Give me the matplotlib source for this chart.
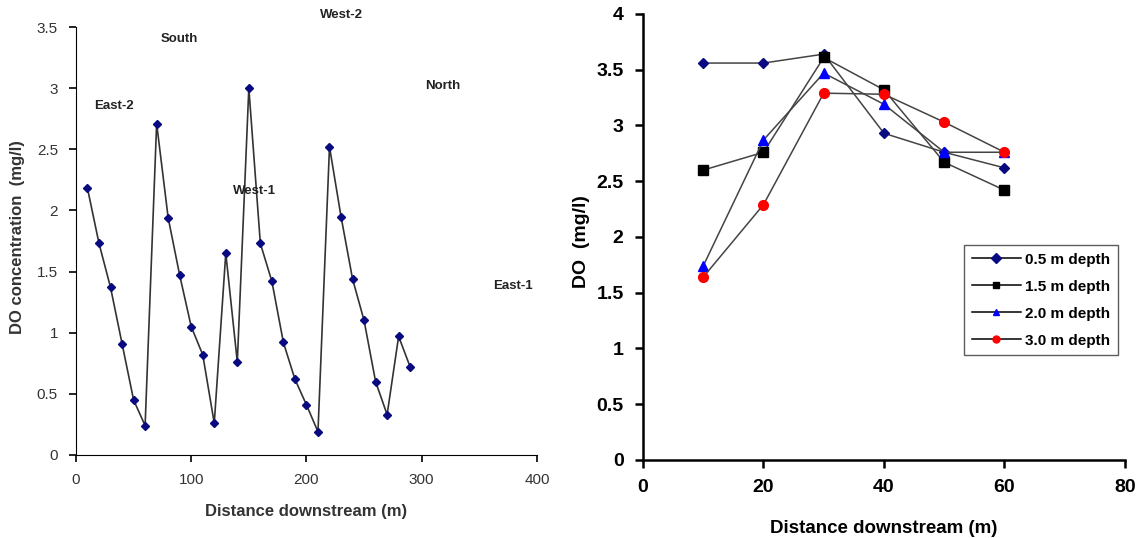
import matplotlib
matplotlib.use("Agg")
import matplotlib.pyplot as plt
import numpy as np

plt.rcParams["font.family"] = ["Liberation Sans", "DejaVu Sans"]

# left panel: DO along the stream
dist = np.arange(10, 300, 10)
doConc = [2.18, 1.73, 1.37, 0.91, 0.45, 0.24, 2.71, 1.94, 1.47, 1.05,
          0.82, 0.26, 1.65, 0.76, 3.00, 1.73, 1.42, 0.92, 0.62, 0.41,
          0.19, 2.52, 1.95, 1.44, 1.10, 0.60, 0.33, 0.97, 0.72]
siteNames = ["East-2", "South", "West-1", "West-2", "North", "East-1"]
siteX = [33, 90, 155, 230, 318, 379]
siteY = [2.85, 3.40, 2.16, 3.60, 3.02, 1.38]

# right panel: DO by depth
distDepth = [10, 20, 30, 40, 50, 60]
depthLabels = ["0.5 m depth", "1.5 m depth", "2.0 m depth", "3.0 m depth"]
do05 = [3.56, 3.56, 3.64, 2.93, 2.76, 2.62]
do15 = [2.60, 2.76, 3.61, 3.32, 2.67, 2.42]
do20 = [1.74, 2.87, 3.47, 3.19, 2.76, 2.76]
do30 = [1.64, 2.29, 3.29, 3.28, 3.03, 2.76]

fig = plt.figure(figsize=(11.39, 5.38), dpi=100)

# left plot
ax1 = fig.add_axes([0.0667, 0.1543, 0.4047, 0.7955])
ax1.plot(dist, doConc, color="#333333", lw=1.2, marker="D", ms=4.5,
         mfc="#0a0a80", mec="#0a0a80")
for name, x, y in zip(siteNames, siteX, siteY):
    ax1.text(x, y, name, fontsize=9.5, fontweight="bold", color="#222222",
             ha="center", va="center", clip_on=False)
ax1.set_xlim(0, 400)
ax1.set_ylim(0, 3.5)
ax1.set_xticks([0, 100, 200, 300, 400])
ax1.set_yticks([0, 0.5, 1, 1.5, 2, 2.5, 3, 3.5])
ax1.set_yticklabels(["0", "0.5", "1", "1.5", "2", "2.5", "3", "3.5"])
ax1.spines["top"].set_visible(False)
ax1.spines["right"].set_visible(False)
ax1.tick_params(direction="out", length=5, width=1.2, labelsize=11,
                labelcolor="#333333", pad=8)
ax1.set_xlabel("Distance downstream (m)", fontsize=12, fontweight="bold",
               color="#333333", labelpad=12)
ax1.set_ylabel("DO concentration  (mg/l)", fontsize=12, fontweight="bold",
               color="#333333")
ax1.yaxis.set_label_coords(-0.11, 0.51)

# right plot
ax2 = fig.add_axes([0.5645, 0.145, 0.4232, 0.829])
ax2.plot(distDepth, do05, color="#444444", lw=1.1, marker="D", ms=5,
         mfc="#0a0a80", mec="#0a0a80", label=depthLabels[0])
ax2.plot(distDepth, do15, color="#444444", lw=1.1, marker="s", ms=7,
         mfc="black", mec="black", label=depthLabels[1])
ax2.plot(distDepth, do20, color="#444444", lw=1.1, marker="^", ms=7,
         mfc="blue", mec="blue", label=depthLabels[2])
ax2.plot(distDepth, do30, color="#444444", lw=1.1, marker="o", ms=7,
         mfc="red", mec="red", label=depthLabels[3])
ax2.set_xlim(0, 80)
ax2.set_ylim(0, 4)
ax2.set_xticks([0, 20, 40, 60, 80])
ax2.set_yticks([0, 0.5, 1, 1.5, 2, 2.5, 3, 3.5, 4])
ax2.set_yticklabels(["0", "0.5", "1", "1.5", "2", "2.5", "3", "3.5", "4"])
ax2.spines["top"].set_visible(False)
ax2.spines["right"].set_visible(False)
ax2.spines["left"].set_linewidth(1.8)
ax2.spines["bottom"].set_linewidth(1.8)
ax2.tick_params(direction="out", length=6, width=1.8, labelsize=14, pad=8)
for lab in ax2.get_xticklabels() + ax2.get_yticklabels():
    lab.set_fontweight("bold")
ax2.set_xlabel("Distance downstream (m)", fontsize=13.5, fontweight="bold")
ax2.xaxis.set_label_coords(0.5, -0.135)
ax2.set_ylabel("DO  (mg/l)", fontsize=14, fontweight="bold")
ax2.yaxis.set_label_coords(-0.11, 0.49)

leg = ax2.legend(loc="upper left", bbox_to_anchor=(964/1139, 1-245/538),
                 bbox_transform=fig.transFigure, fontsize=11, frameon=True,
                 fancybox=False, edgecolor="#333333", handlelength=3.2,
                 handletextpad=0.3, borderpad=0.5, labelspacing=0.85,
                 borderaxespad=0)
for t in leg.get_texts():
    t.set_fontweight("bold")
for h in leg.get_lines():
    h.set_color("black")
    h.set_markersize(5)

fig.savefig("out.png", dpi=100)
